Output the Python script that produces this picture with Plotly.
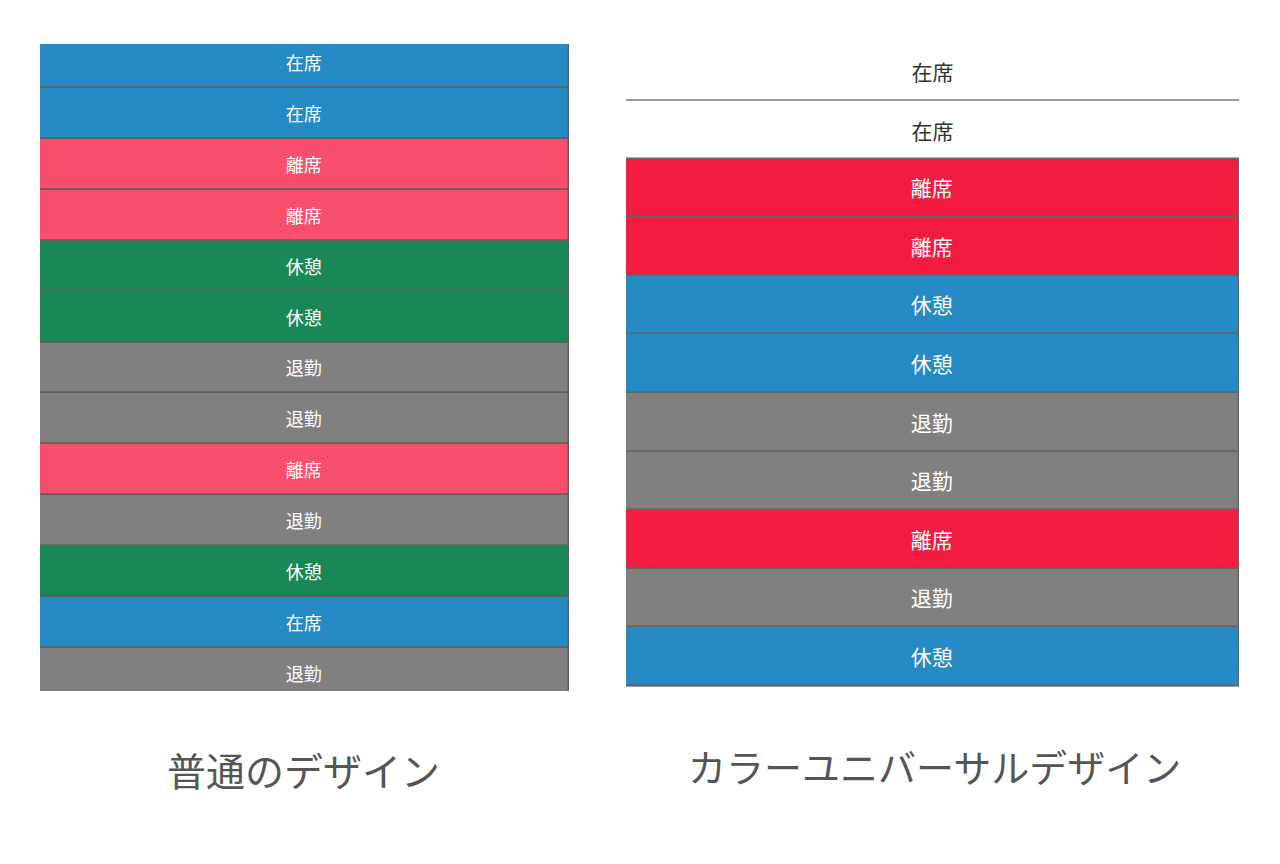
import plotly.graph_objects as go

# row statuses, top to bottom (same list drives both columns)
statuses = ['在席', '在席', '離席', '離席', '休憩', '休憩', '退勤', '退勤',
            '離席', '退勤', '休憩', '在席', '退勤']
rows = list(range(len(statuses)))
# the right-hand column only reaches the 12th row (its text is cut off)
cud_statuses = statuses[:12]
cud_rows = rows[:12]

titles = ['普通のデザイン', 'カラーユニバーサルデザイン']

normal_colors = {'在席': '#268bc4', '離席': '#f74f6c', '休憩': '#1a8856', '退勤': '#808080'}
cud_colors = {'在席': 'rgba(255,255,255,0)', '離席': '#f21c41', '休憩': '#268bc4', '退勤': '#808080'}

FONT = 'Noto Sans CJK JP'

fig = go.Figure()

# left column: normal design
fig.add_trace(go.Bar(
    y=rows, x=[1] * len(rows), orientation='h', width=1,
    marker=dict(color=[normal_colors[s] for s in statuses],
                line=dict(color='#606060', width=1.5)),
    text=statuses, textposition='inside', insidetextanchor='middle', textangle=0,
    textfont=dict(family=FONT, size=18, color='white'),
    hoverinfo='skip', xaxis='x', yaxis='y',
))

# right column: colour universal design
fig.add_trace(go.Bar(
    y=cud_rows, x=[1] * len(cud_rows), orientation='h', width=1,
    marker=dict(color=[cud_colors[s] for s in cud_statuses],
                line=dict(color='#666666',
                          width=[0 if s == '在席' else 1.5 for s in cud_statuses])),
    text=cud_statuses, textposition='inside', insidetextanchor='middle', textangle=0,
    textfont=dict(family=FONT, size=21,
                  color=['#333333' if s == '在席' else 'white' for s in cud_statuses]),
    hoverinfo='skip', xaxis='x2', yaxis='y2',
))

axis_off = dict(showticklabels=False, zeroline=False, showline=False, ticks='')

fig.update_layout(
    width=1280, height=864,
    margin=dict(l=0, r=0, t=0, b=0),
    paper_bgcolor='white', plot_bgcolor='white',
    showlegend=False, hovermode=False, bargap=0,
    font=dict(family=FONT),
    xaxis=dict(domain=[40 / 1280, 569 / 1280], range=[0, 1], showgrid=False, **axis_off),
    yaxis=dict(domain=[1 - 691 / 864, 1 - 44 / 864], range=[12.346, -0.364],
               showgrid=False, **axis_off),
    xaxis2=dict(domain=[626 / 1280, 1239 / 1280], range=[0, 1], showgrid=False,
                anchor='y2', **axis_off),
    yaxis2=dict(domain=[1 - 707 / 864, 1 - 42 / 864], range=[10.858, -0.49],
                anchor='x2', showgrid=True, gridcolor='#999999', gridwidth=1.5,
                tickmode='array', tickvals=[i + 0.5 for i in cud_rows], **axis_off),
    annotations=[
        dict(text=titles[0], x=303 / 1280, y=1 - 769 / 864, xref='paper', yref='paper',
             xanchor='center', yanchor='middle', showarrow=False,
             font=dict(family=FONT, size=39, color='#555555')),
        dict(text=titles[1], x=934 / 1280, y=1 - 765 / 864, xref='paper', yref='paper',
             xanchor='center', yanchor='middle', showarrow=False,
             font=dict(family=FONT, size=38, color='#555555')),
    ],
)

fig.write_html('out.html', config={'displayModeBar': False},
               post_script="document.body.style.margin='0';document.body.style.overflow='hidden';")
